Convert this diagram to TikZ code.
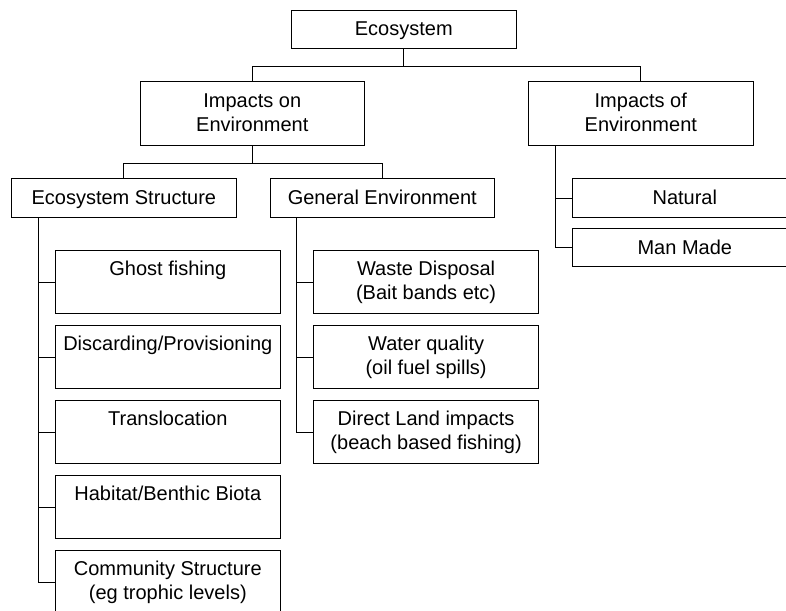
\documentclass[tikz,border=0pt]{standalone}
\usepackage{fontspec}
\setmainfont{Liberation Sans}
\usetikzlibrary{calc}
\newcommand\diafont{\fontsize{20}{24}\selectfont}
\setlength\tabcolsep{0pt}
\newcommand\twol[2]{\begin{tabular}[t]{c}#1\\#2\end{tabular}}
\tikzset{
  box/.style={draw, line width=1.1pt, inner sep=0pt, anchor=north west, minimum width=224.5pt},
  lbl/.style={anchor=base, inner sep=0pt, font=\diafont},
  conn/.style={line width=1.1pt}
}
\begin{document}
\begin{tikzpicture}[x=1pt, y=-1pt]
\useasboundingbox (0,0) rectangle (786,610);
\clip (0,0) rectangle (786,610);
% boxes
\node[box, minimum height=38pt] (eco) at (291,10) {};
\node[box, minimum height=64pt] (ion) at (139.5,81) {};
\node[box, minimum height=64pt] (iof) at (528,81) {};
\node[box, minimum height=38.5pt] (es) at (11,178.3) {};
\node[box, minimum height=38.5pt] (ge) at (269.5,178.3) {};
\node[box, minimum height=38.4pt] (nat) at (572,178.3) {};
\node[box, minimum height=37.7pt] (mm) at (572,228.3) {};
\node[box, minimum height=63.3pt] (gf) at (55,250) {};
\node[box, minimum height=63.3pt] (dp) at (55,325) {};
\node[box, minimum height=63.3pt] (tr) at (55,400) {};
\node[box, minimum height=63.3pt] (hb) at (55,475) {};
\node[box, minimum height=63.3pt] (cs) at (55,550) {};
\node[box, minimum height=63.3pt] (wd) at (313.3,250) {};
\node[box, minimum height=63.3pt] (wq) at (313.3,325) {};
\node[box, minimum height=63.3pt] (dl) at (313.3,400) {};
% labels
\node[lbl] (eco-t) at ($(eco.north)+(0,25.7)$) {Ecosystem};
\node[lbl] (ion-t) at ($(ion.north)+(0,26.5)$) {\twol{Impacts on}{Environment}};
\node[lbl] (iof-t) at ($(iof.north)+(0,26.5)$) {\twol{Impacts of}{Environment}};
\node[lbl] (es-t) at ($(es.north)+(0,25.7)$) {Ecosystem Structure};
\node[lbl] (ge-t) at ($(ge.north)+(0,25.7)$) {General Environment};
\node[lbl] (nat-t) at ($(nat.north)+(0,25.7)$) {Natural};
\node[lbl] (mm-t) at ($(mm.north)+(0,25.7)$) {Man Made};
\node[lbl] (gf-t) at ($(gf.north)+(0,25.5)$) {Ghost fishing};
\node[lbl] (dp-t) at ($(dp.north)+(0,25.5)$) {Discarding/Provisioning};
\node[lbl] (tr-t) at ($(tr.north)+(0,25.5)$) {Translocation};
\node[lbl] (hb-t) at ($(hb.north)+(0,25.5)$) {Habitat/Benthic Biota};
\node[lbl] (cs-t) at ($(cs.north)+(0,25.5)$) {\twol{Community Structure}{(eg trophic levels)}};
\node[lbl] (wd-t) at ($(wd.north)+(0,25.5)$) {\twol{Waste Disposal}{(Bait bands etc)}};
\node[lbl] (wq-t) at ($(wq.north)+(0,25.5)$) {\twol{Water quality}{(oil fuel spills)}};
\node[lbl] (dl-t) at ($(dl.north)+(0,25.5)$) {\twol{Direct Land impacts}{(beach based fishing)}};
% connectors
\coordinate (e1) at ($(eco.south)+(0,17)$);
\draw[conn] (eco.south) -- (e1);
\draw[conn] (e1) -| (ion.north);
\draw[conn] (e1) -| (iof.north);
\coordinate (i1) at ($(ion.south)+(0,17)$);
\draw[conn] (ion.south) -- (i1);
\draw[conn] (i1) -| (es.north);
\draw[conn] (i1) -| (ge.north);
\coordinate (esl) at ($(es.south west)+(27.3,0)$);
\foreach \c in {gf,dp,tr,hb,cs} \draw[conn] (esl) |- (\c.west);
\coordinate (gel) at ($(ge.south west)+(27.2,0)$);
\foreach \c in {wd,wq,dl} \draw[conn] (gel) |- (\c.west);
\coordinate (iofl) at ($(iof.south west)+(27.7,0)$);
\foreach \c in {nat,mm} \draw[conn] (iofl) |- (\c.west);
\end{tikzpicture}
\end{document}
